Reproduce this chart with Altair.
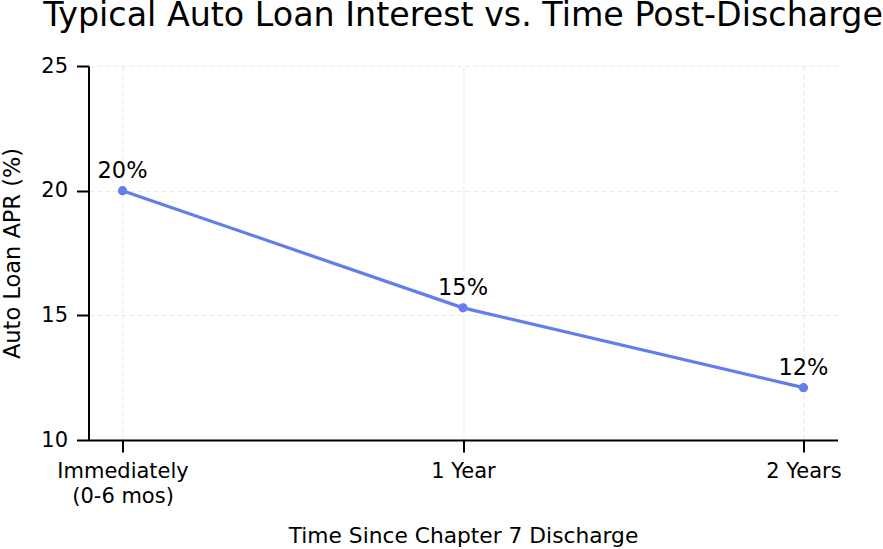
import altair as alt
import pandas as pd

categories = ["Immediately\n(0-6 mos)", "1 Year", "2 Years"]
apr = [20.0, 15.3, 12.1]
labels = ["20%", "15%", "12%"]
y_ticks = [10, 15, 20, 25]

df = pd.DataFrame({"time": categories, "apr": apr, "label": labels})

FONT = "DejaVu Sans"
COLOR = "#637DEC"

x = alt.X(
    "time:N",
    sort=categories,
    scale=alt.Scale(type="point", padding=0.1),
    axis=alt.Axis(
        title="Time Since Chapter 7 Discharge",
        titleFontSize=21.75,
        labelAngle=0,
        labelExpr="split(datum.label, '\\n')",
        labelLineHeight=25,
        labelPadding=8,
        titlePadding=19,
        grid=True,
    ),
)
y = alt.Y(
    "apr:Q",
    scale=alt.Scale(domain=[10, 25], nice=False, zero=False),
    axis=alt.Axis(
        title="Auto Loan APR (%)",
        titleFontSize=22.5,
        values=y_ticks,
        labelPadding=9,
        titlePadding=16,
        grid=True,
    ),
)

base = alt.Chart(df).encode(x=x, y=y)

line = base.mark_line(color=COLOR, strokeWidth=3.2)
points = base.mark_circle(color=COLOR, size=85, opacity=1)
text = base.mark_text(
    dy=-12.5, baseline="alphabetic", align="center", fontSize=22.5, font=FONT, color="black"
).encode(text="label:N")

chart = (
    alt.layer(line, points, text)
    .properties(
        width=749,
        height=374,
        title=alt.TitleParams(
            "Typical Auto Loan Interest vs. Time Post-Discharge",
            anchor="middle",
            fontSize=33.3,
            font=FONT,
            fontWeight="normal",
            color="black",
            baseline="alphabetic",
            offset=-4,
        ),
        autosize=alt.AutoSizeParams(type="none"),
        padding={"left": 88.5, "top": 66, "right": 45.5, "bottom": 109},
    )
    .configure_view(stroke=None)
    .configure_axis(
        domainColor="black",
        domainWidth=2,
        tickColor="black",
        tickWidth=2,
        tickSize=12,
        labelFont=FONT,
        labelFontSize=21,
        labelColor="black",
        titleFont=FONT,
        titleFontWeight="normal",
        titleColor="black",
        gridColor="#ebebeb",
        gridDash=[5, 3],
        gridWidth=1.2,
    )
)

chart.save("out.html", embed_options={"renderer": "svg", "actions": False})
